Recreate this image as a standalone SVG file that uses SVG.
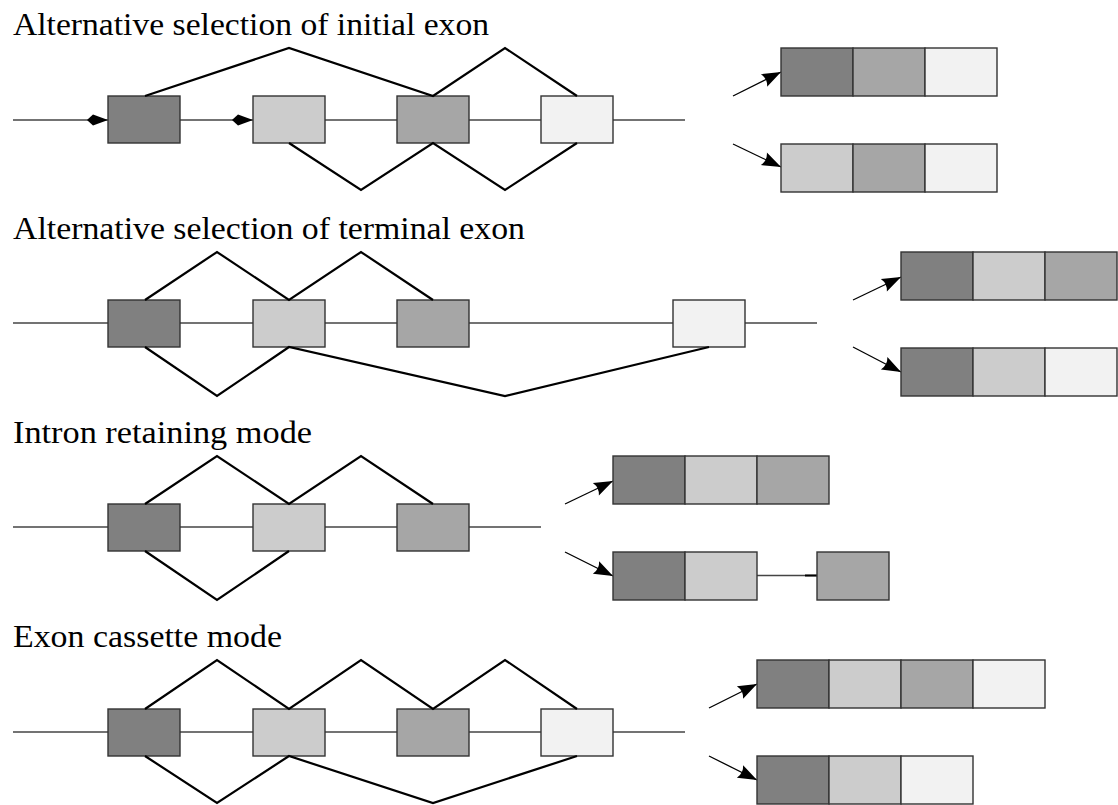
<svg xmlns="http://www.w3.org/2000/svg" width="1118" height="805" viewBox="0 0 1118 805">
  <style>
    .title { font-family: "Liberation Serif", "DejaVu Serif", serif; font-size: 31px; fill: #000; }
    .intron { stroke: #444; stroke-width: 1.4; fill: none; }
    .splice { stroke: #000; stroke-width: 2.2; fill: none; stroke-linejoin: miter; }
    .ex { stroke: #333; stroke-width: 1.4; }
    .e1 { fill: #808080; }
    .e2 { fill: #cccccc; }
    .e3 { fill: #a6a6a6; }
    .e4 { fill: #f2f2f2; }
    .ptr { stroke: #000; stroke-width: 1.3; fill: none; marker-end: url(#head); }
    .dia { fill: #000; }
  </style>
  <defs>
    <marker id="head" markerUnits="userSpaceOnUse" markerWidth="22" markerHeight="16" refX="19" refY="7" orient="auto" overflow="visible">
      <path d="M0,0 L19,7 L0,14 Q4,7 0,0 Z" fill="#000"/>
    </marker>
  </defs>

  <!-- Section 1: alternative selection of initial exon -->
  <text class="title" x="13" y="35" textLength="476" lengthAdjust="spacingAndGlyphs">Alternative selection of initial exon</text>
  <g id="s1-gene">
    <line class="intron" x1="13" y1="120" x2="685" y2="120"/>
    <polygon class="dia" points="87,120 93,114.5 108,120 93,125.5"/>
    <polygon class="dia" points="232,120 238,114.5 253,120 238,125.5"/>
  </g>
  <g id="s1-exon1"><rect class="ex e1" x="108" y="96" width="72" height="47"/></g>
  <g id="s1-exon2"><rect class="ex e2" x="253" y="96" width="72" height="47"/></g>
  <g id="s1-exon3"><rect class="ex e3" x="397" y="96" width="72" height="47"/></g>
  <g id="s1-exon4"><rect class="ex e4" x="541" y="96" width="72" height="47"/></g>
  <g id="s1-splicing">
    <polyline class="splice" points="145,96 289,48 433,96 505,48 577,96"/>
    <polyline class="splice" points="289,143 361,190 433,143 505,190 577,143"/>
  </g>
  <g id="s1-pointers">
    <line class="ptr" x1="733" y1="96" x2="781" y2="72"/>
    <line class="ptr" x1="733" y1="144" x2="781" y2="167"/>
  </g>
  <g id="s1-mrna1">
    <rect class="ex e1" x="781" y="48" width="72" height="48"/>
    <rect class="ex e3" x="853" y="48" width="72" height="48"/>
    <rect class="ex e4" x="925" y="48" width="72" height="48"/>
  </g>
  <g id="s1-mrna2">
    <rect class="ex e2" x="781" y="144" width="72" height="48"/>
    <rect class="ex e3" x="853" y="144" width="72" height="48"/>
    <rect class="ex e4" x="925" y="144" width="72" height="48"/>
  </g>

  <!-- Section 2: alternative selection of terminal exon -->
  <text class="title" x="13" y="239" textLength="512" lengthAdjust="spacingAndGlyphs">Alternative selection of terminal exon</text>
  <g id="s2-gene"><line class="intron" x1="13" y1="323" x2="817" y2="323"/></g>
  <g id="s2-exon1"><rect class="ex e1" x="108" y="300" width="72" height="47"/></g>
  <g id="s2-exon2"><rect class="ex e2" x="253" y="300" width="72" height="47"/></g>
  <g id="s2-exon3"><rect class="ex e3" x="397" y="300" width="72" height="47"/></g>
  <g id="s2-exon4"><rect class="ex e4" x="673" y="300" width="72" height="47"/></g>
  <g id="s2-splicing">
    <polyline class="splice" points="145,300 217,252 289,300 361,252 433,300"/>
    <polyline class="splice" points="145,347 217,396 289,347 505,396 709,347"/>
  </g>
  <g id="s2-pointers">
    <line class="ptr" x1="853" y1="300" x2="901" y2="277"/>
    <line class="ptr" x1="853" y1="347" x2="901" y2="372"/>
  </g>
  <g id="s2-mrna1">
    <rect class="ex e1" x="901" y="252" width="72" height="48"/>
    <rect class="ex e2" x="973" y="252" width="72" height="48"/>
    <rect class="ex e3" x="1045" y="252" width="72" height="48"/>
  </g>
  <g id="s2-mrna2">
    <rect class="ex e1" x="901" y="348" width="72" height="48"/>
    <rect class="ex e2" x="973" y="348" width="72" height="48"/>
    <rect class="ex e4" x="1045" y="348" width="72" height="48"/>
  </g>

  <!-- Section 3: intron retaining mode -->
  <text class="title" x="13" y="443" textLength="299" lengthAdjust="spacingAndGlyphs">Intron retaining mode</text>
  <g id="s3-gene"><line class="intron" x1="13" y1="527" x2="541" y2="527"/></g>
  <g id="s3-exon1"><rect class="ex e1" x="108" y="504" width="72" height="47"/></g>
  <g id="s3-exon2"><rect class="ex e2" x="253" y="504" width="72" height="47"/></g>
  <g id="s3-exon3"><rect class="ex e3" x="397" y="504" width="72" height="47"/></g>
  <g id="s3-splicing">
    <polyline class="splice" points="145,504 217,456 289,504 361,456 433,504"/>
    <polyline class="splice" points="145,551 217,600 289,551"/>
  </g>
  <g id="s3-pointers">
    <line class="ptr" x1="565" y1="504" x2="613" y2="481"/>
    <line class="ptr" x1="565" y1="552" x2="613" y2="576"/>
  </g>
  <g id="s3-mrna1">
    <rect class="ex e1" x="613" y="456" width="72" height="48"/>
    <rect class="ex e2" x="685" y="456" width="72" height="48"/>
    <rect class="ex e3" x="757" y="456" width="72" height="48"/>
  </g>
  <g id="s3-mrna2">
    <line class="intron" x1="757" y1="575.5" x2="817" y2="575.5"/>
    <line stroke="#000" stroke-width="2" x1="805" y1="575.5" x2="817" y2="575.5"/>
    <rect class="ex e1" x="613" y="552" width="72" height="48"/>
    <rect class="ex e2" x="685" y="552" width="72" height="48"/>
    <rect class="ex e3" x="817" y="552" width="72" height="48"/>
  </g>

  <!-- Section 4: exon cassette mode -->
  <text class="title" x="13" y="647" textLength="269" lengthAdjust="spacingAndGlyphs">Exon cassette mode</text>
  <g id="s4-gene"><line class="intron" x1="13" y1="732" x2="685" y2="732"/></g>
  <g id="s4-exon1"><rect class="ex e1" x="108" y="709" width="72" height="47"/></g>
  <g id="s4-exon2"><rect class="ex e2" x="253" y="709" width="72" height="47"/></g>
  <g id="s4-exon3"><rect class="ex e3" x="397" y="709" width="72" height="47"/></g>
  <g id="s4-exon4"><rect class="ex e4" x="541" y="709" width="72" height="47"/></g>
  <g id="s4-splicing">
    <polyline class="splice" points="145,709 217,660 289,709 361,660 433,709 505,660 577,709"/>
    <polyline class="splice" points="145,756 217,803 289,756 433,803 577,756"/>
  </g>
  <g id="s4-pointers">
    <line class="ptr" x1="709" y1="708" x2="757" y2="684"/>
    <line class="ptr" x1="709" y1="756" x2="757" y2="780"/>
  </g>
  <g id="s4-mrna1">
    <rect class="ex e1" x="757" y="660" width="72" height="48"/>
    <rect class="ex e2" x="829" y="660" width="72" height="48"/>
    <rect class="ex e3" x="901" y="660" width="72" height="48"/>
    <rect class="ex e4" x="973" y="660" width="72" height="48"/>
  </g>
  <g id="s4-mrna2">
    <rect class="ex e1" x="757" y="756" width="72" height="48"/>
    <rect class="ex e2" x="829" y="756" width="72" height="48"/>
    <rect class="ex e4" x="901" y="756" width="72" height="48"/>
  </g>
</svg>
